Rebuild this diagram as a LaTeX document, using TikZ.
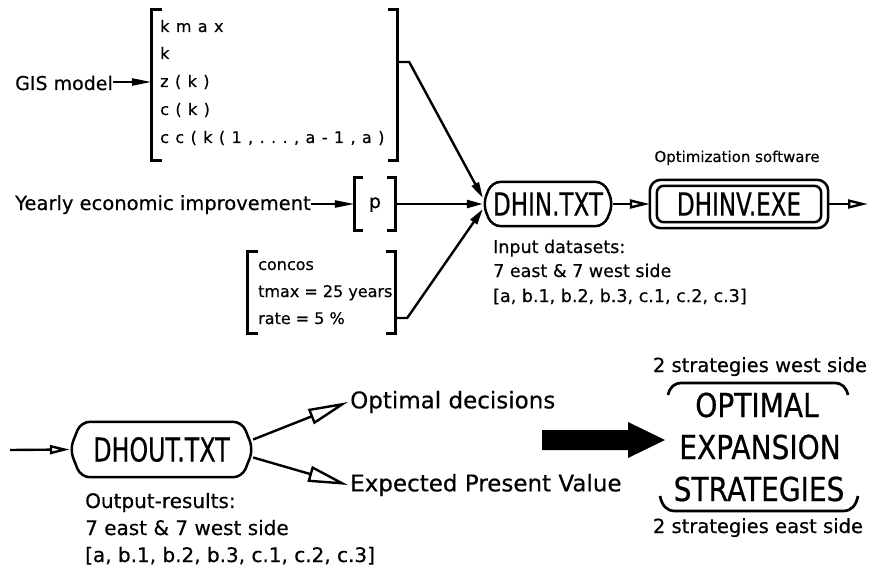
\documentclass[tikz,border=0pt]{standalone}
\usepackage{fontspec}
\setmainfont{DejaVu Sans}[FakeBold=0.45]
\newfontfamily\bigf{DejaVu Sans}[FakeStretch=0.72,FakeBold=0.5]
\newfontfamily\strf{DejaVu Sans}[FakeStretch=0.85,FakeBold=0.5]
\newfontfamily\spf{DejaVu Sans}[LetterSpace=40,FakeBold=0.45]
\usetikzlibrary{arrows.meta}
\newcommand{\fs}[1]{\fontsize{#1}{#1}\selectfont}
\tikzset{
  ln/.style={line width=2.4pt},
  br/.style={line width=2.7pt},
  frm/.style={line width=2.5pt, rounded corners=9pt},
  txt/.style={inner sep=0pt, anchor=base west},
  ctxt/.style={inner sep=0pt, anchor=base},
  brbox/.style={inner sep=0pt, draw=none},
  ga/.style={ln, -{Triangle[length=20pt,width=7pt]}},
  fa/.style={ln, -{Triangle[length=16pt,width=8pt]}},
  oa/.style={ln, -{Triangle[open,length=20pt,width=9pt]}},
  ob/.style={ln, -{Triangle[open,length=40pt,width=16pt]}},
}
\begin{document}
\begin{tikzpicture}[x=1pt,y=-1pt]
\useasboundingbox (0,0) rectangle (869,572);

% ---------- input side ----------
\node[txt] (gis) at (15,90) {\fs{19}GIS model};
\node[brbox, minimum width=245, minimum height=150] (gisb) at (274.5,85) {};
\draw[br] ([xshift=10]gisb.north west) -- (gisb.north west) -- (gisb.south west) -- ([xshift=10]gisb.south west);
\draw[br] ([xshift=-9]gisb.north east) -- (gisb.north east) -- (gisb.south east) -- ([xshift=-9]gisb.south east);
\node[txt] (kmax) at (160,32) {\spf\fs{16}kmax};
\node[txt] (kk) at (160,59) {\spf\fs{16}k};
\node[txt] (zk) at (160,87) {\spf\fs{16}z(k)};
\node[txt] (ck) at (160,115) {\spf\fs{16}c(k)};
\node[txt] (cck) at (160,143) {\spf\fs{16}cc(k(1,...,a-1,a)};
\draw[ga] (gis.east |- 0,82) -- (gisb.west |- 0,82);

\node[txt] (yearly) at (15,210) {\fs{19.5}Yearly economic improvement};
\node[brbox, minimum width=40, minimum height=52] (pb) at (375,204) {};
\draw[br] ([xshift=8]pb.north west) -- (pb.north west) -- (pb.south west) -- ([xshift=8]pb.south west);
\draw[br] ([xshift=-8]pb.north east) -- (pb.north east) -- (pb.south east) -- ([xshift=-8]pb.south east);
\node[ctxt] (p) at (375,208) {\fs{19}p};
\draw[ga] (yearly.east |- 0,204) -- (pb.west);

\node[brbox, minimum width=147, minimum height=81] (cb) at (321.5,292.5) {};
\draw[br] ([xshift=10]cb.north west) -- (cb.north west) -- (cb.south west) -- ([xshift=10]cb.south west);
\draw[br] ([xshift=-9]cb.north east) -- (cb.north east) -- (cb.south east) -- ([xshift=-9]cb.south east);
\node[txt] (concos) at (258,270) {\fs{16}concos};
\node[txt] (tmax) at (258,297) {\fs{16}tmax = 25 years};
\node[txt] (rate) at (258,324) {\fs{16}rate = 5 \%};

% ---------- DHIN / DHINV ----------
\node[inner sep=0, minimum width=130, minimum height=44] (dhin) at (548,204) {\bigf\fs{32}DHIN.TXT};
\draw[frm] ([xshift=9]dhin.north west) -- ([xshift=-9]dhin.north east) -- (dhin.east)
  -- ([xshift=-9]dhin.south east) -- ([xshift=9]dhin.south west) -- (dhin.west) -- cycle;

\draw[fa] (gisb.east |- 0,62) -- ++(12,0) -- ([yshift=6]dhin.west);
\draw[fa] (pb.east) -- (dhin.west);
\draw[fa] (cb.east |- 0,318) -- ++(12,0) -- ([yshift=-5]dhin.west);

\node[inner sep=0, minimum width=178, minimum height=48] (dhinv) at (739,204) {\bigf\fs{32}DHINV.EXE};
\draw[frm, rounded corners=11pt] (dhinv.north west) rectangle (dhinv.south east);
\draw[frm, rounded corners=7pt] ([xshift=7,yshift=-6]dhinv.north west) rectangle ([xshift=-7,yshift=6]dhinv.south east);
\node[ctxt] (optsw) at (737,162) {\fs{15}Optimization software};
\draw[oa] (dhin.east) -- (dhinv.west);
\coordinate (outR) at (868,204);
\draw[oa] (dhinv.east) -- (outR);

\node[txt] (in1) at (493,253) {\fs{17.5}Input datasets:};
\node[txt] (in2) at (493,277) {\fs{17.5}7 east \& 7 west side};
\node[txt] (in3) at (493,302) {\fs{17.5}[a, b.1, b.2, b.3, c.1, c.2, c.3]};

% ---------- output side ----------
\coordinate (inL) at (10,450);
\node[inner sep=0, minimum width=183, minimum height=55] (dhout) at (161.5,449.5) {\bigf\fs{33}DHOUT.TXT};
\draw[frm] ([xshift=11]dhout.north west) -- ([xshift=-11]dhout.north east) -- (dhout.east)
  -- ([xshift=-11]dhout.south east) -- ([xshift=11]dhout.south west) -- (dhout.west) -- cycle;
\draw[oa] (inL) -- (dhout.west);

\node[txt] (out1) at (85,508) {\fs{20}Output-results:};
\node[txt] (out2) at (85,535) {\fs{20}7 east \& 7 west side};
\node[txt] (out3) at (85,562) {\fs{20}[a, b.1, b.2, b.3, c.1, c.2, c.3]};

\node[inner sep=2pt, anchor=west] (optd) at (348,402) {\fs{23}Optimal decisions};
\node[inner sep=2pt, anchor=west] (epv) at (348,485) {\fs{23}Expected Present Value};
\draw[ob] ([yshift=10]dhout.east) -- (optd.west);
\draw[ob] ([yshift=-8]dhout.east) -- (epv.west);

% big black arrow
\fill (542,430) -- (628,430) -- (628,422) -- (665,440) -- (628,458) -- (628,450) -- (542,450) -- cycle;

% strategies
\node[ctxt] (sw) at (760,372) {\fs{19.5}2 strategies west side};
\node[ctxt] (s1) at (757,417) {\strf\fs{33}OPTIMAL};
\node[ctxt] (s2) at (760,459) {\strf\fs{33}EXPANSION};
\node[ctxt] (s3) at (759,501) {\strf\fs{33}STRATEGIES};
\node[ctxt] (se) at (758,533) {\fs{19.5}2 strategies east side};
\draw[br] (668,395) .. controls (670,387) and (674,383) .. (682,383) -- (834,383)
  .. controls (842,383) and (846,387) .. (848,395);
\draw[br] (660,496) .. controls (662,505) and (666,511) .. (675,511) -- (843,511)
  .. controls (852,511) and (856,505) .. (858,496);
\end{tikzpicture}
\end{document}
